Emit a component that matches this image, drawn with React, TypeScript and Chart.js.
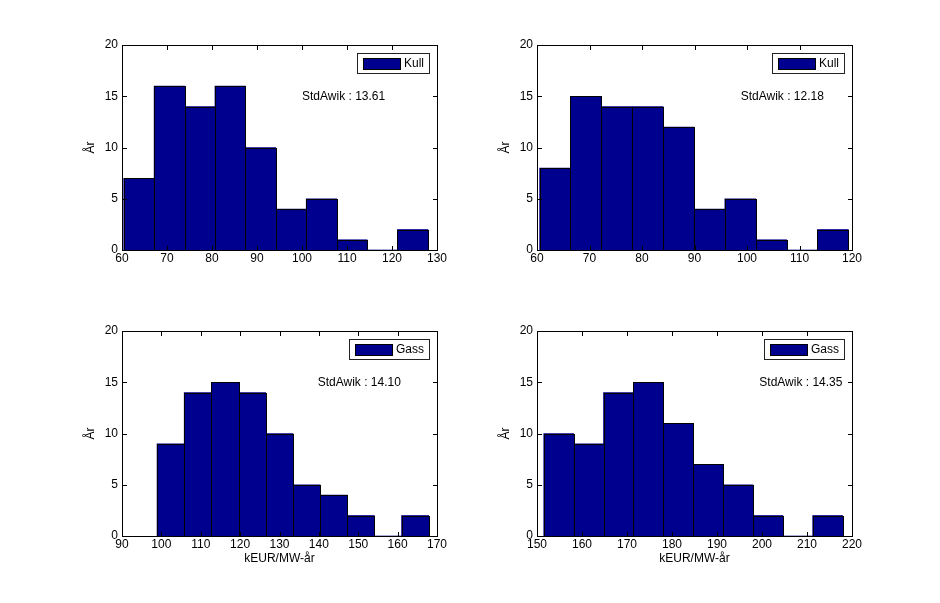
import React, { useEffect, useRef } from "react";
import { Chart, registerables } from "chart.js";

Chart.register(...registerables);

// ---------- data ----------
const kullLeftCenters = [63.76, 70.52, 77.28, 84.04, 90.8, 97.56, 104.32, 111.08, 117.84, 124.6];
const kullLeftCounts = [7, 16, 14, 16, 10, 4, 5, 1, 0, 2];
const kullLeftXTicks = [60, 70, 80, 90, 100, 110, 120, 130];

const kullRightCenters = [63.44, 69.32, 75.2, 81.08, 86.96, 92.84, 98.72, 104.6, 110.48, 116.36];
const kullRightCounts = [8, 15, 14, 14, 12, 4, 5, 1, 0, 2];
const kullRightXTicks = [60, 70, 80, 90, 100, 110, 120];

const gassLeftCenters = [102.35, 109.25, 116.15, 123.05, 129.95, 136.85, 143.75, 150.65, 157.55, 164.45];
const gassLeftCounts = [9, 14, 15, 14, 10, 5, 4, 2, 0, 2];
const gassLeftXTicks = [90, 100, 110, 120, 130, 140, 150, 160, 170];

const gassRightCenters = [154.82, 161.46, 168.1, 174.74, 181.38, 188.02, 194.66, 201.3, 207.94, 214.58];
const gassRightCounts = [10, 9, 14, 15, 11, 7, 5, 2, 0, 2];
const gassRightXTicks = [150, 160, 170, 180, 190, 200, 210, 220];

const yTicks = [0, 5, 10, 15, 20];
const seriesNames = ["Kull", "Kull", "Gass", "Gass"];
const stdLabels = ["StdAwik : 13.61", "StdAwik : 12.18", "StdAwik : 14.10", "StdAwik : 14.35"];
const stdX = [100, 98.8, 139.7, 199.4];
const stdY = [15, 15, 15, 15];
const yTitle = "År";
const xTitle = "kEUR/MW-år";

// ---------- styling ----------
const BAR = "#00008F";
const FONT = "12px 'Liberation Sans', Arial, Helvetica, sans-serif";
const PAD = { left: 50, top: 20, right: 20, bottom: 40 };

type PanelDef = {
  centers: number[];
  counts: number[];
  xTicks: number[];
  name: string;
  std: string;
  sx: number;
  sy: number;
  xLabel: string | null;
  L: number;
  R: number;
  T: number;
  B: number;
};

const panels: PanelDef[] = [
  { centers: kullLeftCenters, counts: kullLeftCounts, xTicks: kullLeftXTicks, name: seriesNames[0], std: stdLabels[0], sx: stdX[0], sy: stdY[0], xLabel: null, L: 122, R: 437, T: 45, B: 250 },
  { centers: kullRightCenters, counts: kullRightCounts, xTicks: kullRightXTicks, name: seriesNames[1], std: stdLabels[1], sx: stdX[1], sy: stdY[1], xLabel: null, L: 537, R: 852, T: 45, B: 250 },
  { centers: gassLeftCenters, counts: gassLeftCounts, xTicks: gassLeftXTicks, name: seriesNames[2], std: stdLabels[2], sx: stdX[2], sy: stdY[2], xLabel: xTitle, L: 122, R: 437, T: 331, B: 536 },
  { centers: gassRightCenters, counts: gassRightCounts, xTicks: gassRightXTicks, name: seriesNames[3], std: stdLabels[3], sx: stdX[3], sy: stdY[3], xLabel: xTitle, L: 537, R: 852, T: 331, B: 536 },
];

const matlabAxes = {
  id: "matlabAxes",
  afterDatasetsDraw(chart: any, _args: any, opts: any) {
    const ctx: CanvasRenderingContext2D = chart.ctx;
    const xs = chart.scales.x;
    const ys = chart.scales.y;
    const a = chart.chartArea;
    const L = Math.round(a.left);
    const R = Math.round(a.right);
    const T = Math.round(a.top);
    const B = Math.round(a.bottom);
    ctx.save();
    ctx.lineWidth = 1;
    ctx.strokeStyle = "#000";

    // crisp bar fills and 1px outlines shared between neighbours
    const meta = chart.getDatasetMeta(0);
    const props = meta.data.map((bar: any) => bar.getProps(["x", "y", "base", "width"], true));
    const edges: number[] = props.map((p: any) => Math.round(p.x - p.width / 2));
    const last = props[props.length - 1];
    edges.push(Math.round(last.x + last.width / 2));
    ctx.fillStyle = BAR;
    props.forEach((p: any, i: number) => {
      if (Math.abs(p.base - p.y) < 0.5) return;
      const y0 = Math.round(p.y);
      const y1 = Math.round(p.base);
      ctx.fillRect(edges[i], y0, edges[i + 1] - edges[i], y1 - y0);
    });
    props.forEach((p: any, i: number) => {
      if (Math.abs(p.base - p.y) < 0.5) return;
      const y0 = Math.round(p.y);
      const y1 = Math.round(p.base);
      ctx.strokeRect(edges[i] + 0.5, y0 + 0.5, edges[i + 1] - edges[i], y1 - y0);
    });

    // axes box
    ctx.strokeRect(L + 0.5, T + 0.5, R - L, B - T);

    // ticks (inward, all four sides)
    const TL = 4;
    ctx.beginPath();
    (opts.xTicks as number[]).forEach((v) => {
      const px = Math.round(xs.getPixelForValue(v)) + 0.5;
      ctx.moveTo(px, B);
      ctx.lineTo(px, B - TL);
      ctx.moveTo(px, T + 1);
      ctx.lineTo(px, T + 1 + TL);
    });
    (opts.yTicks as number[]).forEach((v) => {
      const py = Math.round(ys.getPixelForValue(v)) + 0.5;
      ctx.moveTo(L + 1, py);
      ctx.lineTo(L + 1 + TL, py);
      ctx.moveTo(R, py);
      ctx.lineTo(R - TL, py);
    });
    ctx.stroke();

    // tick labels
    ctx.fillStyle = "#000";
    ctx.font = FONT;
    ctx.textAlign = "center";
    ctx.textBaseline = "middle";
    (opts.xTicks as number[]).forEach((v) => {
      ctx.fillText(String(v), xs.getPixelForValue(v), B + 9);
    });
    ctx.textAlign = "right";
    (opts.yTicks as number[]).forEach((v) => {
      ctx.fillText(String(v), L - 4, ys.getPixelForValue(v));
    });

    // axis titles
    ctx.save();
    ctx.translate(L - 31, (T + B) / 2);
    ctx.rotate(-Math.PI / 2);
    ctx.textAlign = "center";
    ctx.textBaseline = "middle";
    ctx.fillText(opts.yTitle, 0, 0);
    ctx.restore();
    if (opts.xTitle) {
      ctx.textAlign = "center";
      ctx.textBaseline = "middle";
      ctx.fillText(opts.xTitle, (L + R) / 2, B + 23);
    }

    // annotation text
    ctx.textAlign = "left";
    ctx.textBaseline = "middle";
    ctx.fillText(opts.std, xs.getPixelForValue(opts.sx), ys.getPixelForValue(opts.sy));

    // legend
    const tw = ctx.measureText(opts.name).width;
    const boxW = Math.round(6 + 37 + 4 + tw + 5);
    const boxH = 20;
    const boxR = R - 8;
    const boxL = boxR - boxW;
    const boxT = T + 8;
    ctx.fillStyle = "#fff";
    ctx.fillRect(boxL, boxT, boxW, boxH);
    ctx.strokeStyle = "#222";
    ctx.strokeRect(boxL + 0.5, boxT + 0.5, boxW, boxH);
    ctx.fillStyle = BAR;
    ctx.fillRect(boxL + 6, boxT + 5, 37, 11);
    ctx.strokeStyle = "#000";
    ctx.strokeRect(boxL + 6.5, boxT + 5.5, 37, 11);
    ctx.fillStyle = "#000";
    ctx.textAlign = "left";
    ctx.fillText(opts.name, boxL + 6 + 37 + 4, boxT + 11);

    ctx.restore();
  },
};

function Panel({ p }: { p: PanelDef }) {
  const ref = useRef<HTMLCanvasElement>(null);
  const W = p.R - p.L + PAD.left + PAD.right;
  const H = p.B - p.T + PAD.top + PAD.bottom;

  useEffect(() => {
    if (!ref.current) return;
    const xMin = p.xTicks[0];
    const xMax = p.xTicks[p.xTicks.length - 1];
    const chart = new Chart(ref.current, {
      type: "bar",
      data: {
        datasets: [
          {
            label: p.name,
            data: p.centers.map((c, i) => ({ x: c, y: p.counts[i] })),
            backgroundColor: BAR,
            borderWidth: 0,
            barPercentage: 1,
            categoryPercentage: 1,
          } as any,
        ],
      },
      options: {
        responsive: false,
        animation: false,
        devicePixelRatio: 1,
        layout: { padding: PAD },
        scales: {
          x: {
            type: "linear",
            min: xMin,
            max: xMax,
            offset: false,
            display: false,
            ticks: { stepSize: 10 },
          },
          y: {
            type: "linear",
            min: 0,
            max: 20,
            display: false,
            ticks: { stepSize: 5 },
          },
        },
        plugins: {
          legend: { display: false },
          tooltip: { enabled: false },
          matlabAxes: {
            xTicks: p.xTicks,
            yTicks: yTicks,
            yTitle: yTitle,
            xTitle: p.xLabel,
            std: p.std,
            sx: p.sx,
            sy: p.sy,
            name: p.name,
          },
        } as any,
      },
      plugins: [matlabAxes],
    });
    return () => chart.destroy();
  }, []);

  return (
    <canvas
      ref={ref}
      width={W}
      height={H}
      style={{
        position: "absolute",
        left: p.L - PAD.left,
        top: p.T - PAD.top,
        width: W,
        height: H,
      }}
    />
  );
}

export default function App() {
  return (
    <div
      style={{
        position: "absolute",
        left: 0,
        top: 0,
        width: 940,
        height: 603,
        background: "#fff",
        overflow: "hidden",
      }}
    >
      {panels.map((p, i) => (
        <Panel key={i} p={p} />
      ))}
    </div>
  );
}
